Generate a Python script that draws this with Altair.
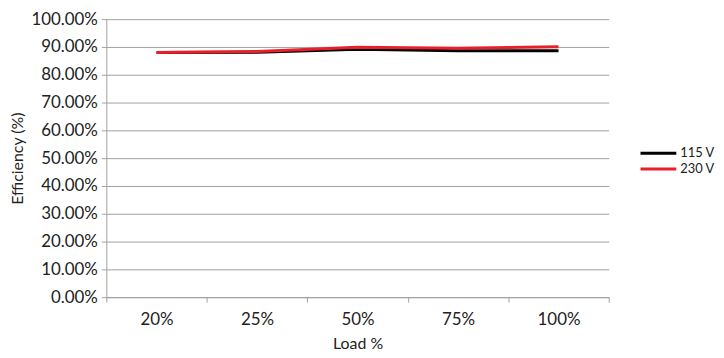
import altair as alt
import pandas as pd

loads = ["20%", "25%", "50%", "75%", "100%"]
eff_115 = [0.880, 0.881, 0.892, 0.886, 0.886]
eff_230 = [0.880, 0.884, 0.899, 0.895, 0.901]
series = ["115 V", "230 V"]
colors = ["#000000", "#e8202a"]

rows = []
for s, vals in zip(series, [eff_115, eff_230]):
    for l, v in zip(loads, vals):
        rows.append({"Load": l, "Efficiency": v, "Series": s})
df = pd.DataFrame(rows)

font = "Lato"
chart = alt.Chart(df).mark_line(strokeWidth=3).encode(
    x=alt.X("Load:O", sort=loads, title="Load %", bandPosition=0.5,
            scale=alt.Scale(type="band", paddingInner=0, paddingOuter=0),
            axis=alt.Axis(labelAngle=0, tickBand="extent", grid=False,
                          domainColor="#a0a0a0", tickColor="#a0a0a0", tickSize=5,
                          labelPadding=10, titlePadding=8)),
    y=alt.Y("Efficiency:Q", title="Efficiency (%)",
            scale=alt.Scale(domain=[0, 1]),
            axis=alt.Axis(format=".2%", values=[i / 10 for i in range(11)],
                          gridColor="#a0a0a0", domainColor="#a0a0a0",
                          tickColor="#a0a0a0", tickSize=5, labelPadding=4,
                          titlePadding=5)),
    color=alt.Color("Series:N", scale=alt.Scale(domain=series, range=colors),
                    legend=alt.Legend(title=None, orient="none", legendX=536, legendY=127,
                                      symbolType="stroke", symbolSize=1300,
                                      symbolStrokeWidth=3, labelFontSize=13,
                                      labelFont=font, labelOffset=2, clipHeight=16,
                                      rowPadding=0, labelColor="#222")),
).properties(
    width=506, height=280,
    autosize=alt.AutoSizeParams(type="none"),
    padding={"left": 99, "top": 10, "right": 108, "bottom": 54},
).configure_axis(
    labelFont=font, titleFont=font, labelFontSize=17, titleFontSize=16,
    titleFontWeight="normal", labelColor="#222", titleColor="#222",
).configure_view(stroke=None)

chart.save("out.html", embed_options={"renderer": "svg", "actions": False})
